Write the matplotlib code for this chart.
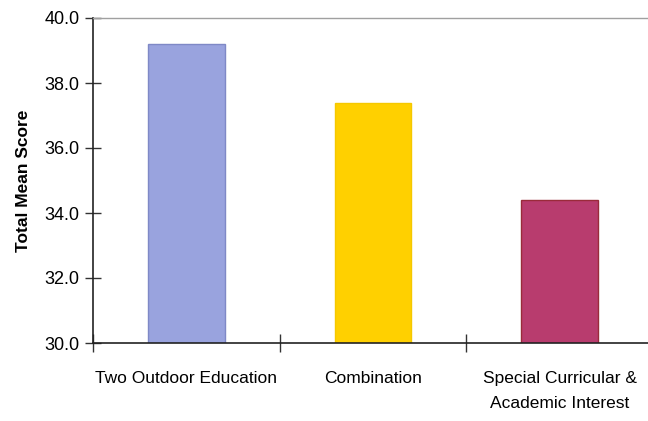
import matplotlib
matplotlib.use("Agg")
import matplotlib.pyplot as plt

categories = ["Two Outdoor Education", "Combination", "Special Curricular &\nAcademic Interest"]
mean_scores = [39.2, 37.38, 34.4]
bar_colors = ["#99A3DE", "#FFD000", "#B83C6E"]
edge_colors = ["#7F89C6", "#F5C800", "#9A2A3A"]
y_ticks = [30.0, 32.0, 34.0, 36.0, 38.0, 40.0]

plt.rcParams["font.family"] = ["Liberation Sans", "DejaVu Sans"]

fig = plt.figure(figsize=(6.48, 4.21), dpi=100)
ax = fig.add_axes([93 / 648, 78 / 421, 560 / 648, 325 / 421])

x = list(range(len(categories)))
ax.bar(x, mean_scores, width=0.41, color=bar_colors, edgecolor=edge_colors,
       linewidth=1.0, zorder=2)

ax.set_xlim(-0.5, len(categories) - 0.5)
ax.set_ylim(30, 40)
ax.set_yticks(y_ticks)
ax.set_yticklabels([f"{v:.1f}" for v in y_ticks], fontsize=13)

# category labels centred on bars, tick marks on category boundaries
ax.set_xticks(x)
ax.set_xticklabels(categories, fontsize=12.5, linespacing=1.85)
ax.tick_params(axis="x", which="major", length=0, pad=20)
ax.set_xticks([-0.5, 0.5, 1.5, 2.5], minor=True)
ax.tick_params(axis="x", which="minor", direction="inout", length=13, width=1, color="#333333")
ax.tick_params(axis="y", direction="inout", length=11, width=1, color="#333333", pad=4)

for side in ("left", "bottom"):
    ax.spines[side].set_color("#222222")
    ax.spines[side].set_linewidth(1.2)
ax.spines["bottom"].set_zorder(3)
ax.spines["top"].set_color("#A0A0A0")
ax.spines["top"].set_linewidth(1.0)
ax.spines["right"].set_visible(False)

ax.set_ylabel("Total Mean Score", fontsize=12.5, fontweight="bold", labelpad=10)

fig.savefig("out.png", dpi=100)
